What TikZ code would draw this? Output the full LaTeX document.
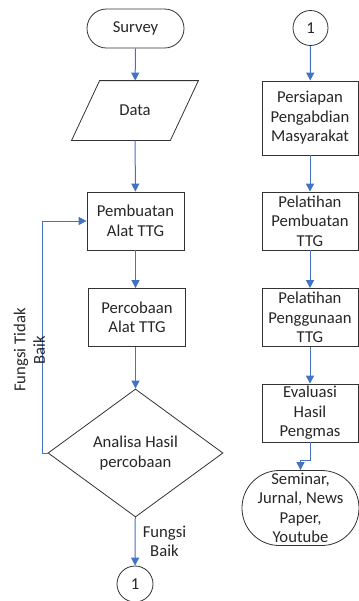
\documentclass[tikz,border=0pt]{standalone}
\usepackage{fontspec}
\setmainfont{Carlito}
\usetikzlibrary{shapes.geometric, arrows.meta}
\definecolor{flowblue}{RGB}{68,114,196}

\begin{document}
\begin{tikzpicture}[x=0.75pt, y=-0.75pt,
    base/.style={draw=black!80, line width=0.6pt, text=black!85, align=center,
                 font=\fontsize{12.5}{14.6}\selectfont, inner sep=1pt},
    proc/.style={base, rectangle, minimum width=72.75pt, minimum height=43.5pt},
    term/.style={base, rectangle, rounded corners=14.6pt, minimum width=72.75pt, minimum height=29.25pt},
    io/.style={base, draw=none, rectangle, minimum width=73.5pt, minimum height=44.25pt},
    decide/.style={base, diamond, minimum width=131.25pt, minimum height=96pt, inner sep=0pt},
    conn/.style={base, circle, minimum size=27pt, inner sep=0pt},
    flow/.style={draw=flowblue, line width=0.75pt, -{Triangle[width=6pt,length=6pt]}},
    lbl/.style={text=black!85, align=center, font=\fontsize{12.5}{14.6}\selectfont}]
    \useasboundingbox (0,0) rectangle (359,601);

    % Left column: making the tool
    \node[term] (survey) at (135.5,28.5) {Survey};
    \node[io] (data) at (135,110.5) {Data};
    \draw[draw=black!80, line width=0.6pt] ([xshift=-10.5pt]data.south west) -- ([xshift=10.5pt]data.north west)
        -- ([xshift=10.5pt]data.north east) -- ([xshift=-10.5pt]data.south east) -- cycle; % parallelogram
    \node[proc] (pembuatan) at (135.5,221) {Pembuatan\\Alat TTG};
    \node[proc] (percobaan) at (137,317.5) {Percobaan\\Alat TTG};
    \node[decide] (analisa) at (135.5,453) {Analisa Hasil\\percobaan};
    \node[conn] (out1) at (135,584) {1};

    \draw[flow] (survey) -- (data);
    \draw[flow] (data) -- (pembuatan);
    \draw[flow] (pembuatan) -- (percobaan.north -| pembuatan);
    \draw[flow] (percobaan.south -| analisa) -- (analisa);
    \draw[flow] (analisa) -- node[lbl, right, xshift=2pt] {Fungsi\\Baik} (out1);
    \draw[flow] (analisa.west) -- ++(-5,0) |- (pembuatan.west); % loop back
    \node[lbl, rotate=90] (tidak) at (29.5,350) {Fungsi Tidak\\Baik};

    % Right column: community service
    \node[conn, minimum size=26.25pt] (in1) at (310.5,28) {1};
    \node[proc, minimum width=72pt, minimum height=55.5pt] (persiapan) at (310,118) {Persiapan\\Pengabdian\\Masyarakat};
    \node[proc, minimum width=72pt] (latih1) at (310,221) {Pelatihan\\Pembuatan\\TTG};
    \node[proc, minimum width=72pt] (latih2) at (310,317.5) {Pelatihan\\Penggunaan\\TTG};
    \node[proc, minimum width=72pt] (evaluasi) at (310,413) {Evaluasi\\Hasil\\Pengmas};
    \node[term, minimum width=87.75pt, minimum height=56.25pt, rounded corners=28pt, inner sep=0pt] (publikasi) at (300.5,508) {Seminar,\\Jurnal, News\\Paper,\\Youtube};

    \draw[flow] (in1) -- (persiapan);
    \draw[flow] (persiapan) -- (latih1);
    \draw[flow] (latih1) -- (latih2);
    \draw[flow] (latih2) -- (evaluasi);
    \draw[flow] (evaluasi.south) -- ++(0,18) -| (publikasi.north);
\end{tikzpicture}
\end{document}
